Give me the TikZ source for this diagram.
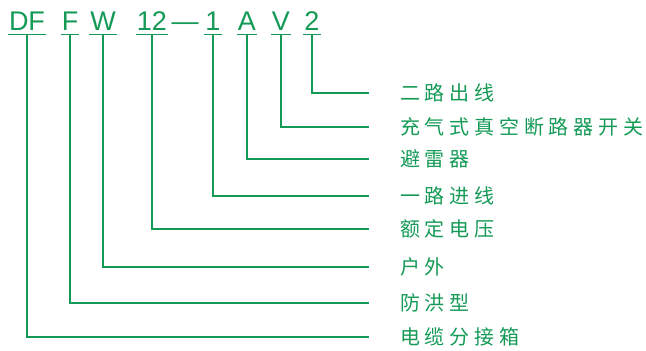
\documentclass[tikz,border=0pt]{standalone}
\usepackage{fontspec}
\setmainfont{Liberation Sans}
\newfontfamily\cjk[LetterSpace=24]{Noto Sans CJK SC}
\definecolor{lg}{RGB}{20,154,86}
\begin{document}
\begin{tikzpicture}[x=1pt,y=-1pt,
  code/.style={text=lg,font=\fontsize{27}{27}\selectfont,inner sep=0pt,text depth=0pt,anchor=base},
  desc/.style={text=lg,font=\cjk\fontsize{20}{20}\selectfont,inner sep=0pt,anchor=west},
  ln/.style={draw=lg,line width=1.3pt}]
\useasboundingbox (0,0) rectangle (646,351);
% code letters
\node[code] (c1) at (27,30) {DF};
\node[code] (c2) at (70,30) {F};
\node[code] (c3) at (103,30) {W};
\node[code] (c4) at (152,30) {12};
\node[code] (dash) at (185,30) {—};
\node[code] (c5) at (213,30) {1};
\node[code] (c6) at (247,30) {A};
\node[code] (c7) at (281,30) {V};
\node[code] (c8) at (312,30) {2};
% descriptions
\node[desc] (t8) at (400,93) {二路出线};
\node[desc] (t7) at (400,127) {充气式真空断路器开关};
\node[desc] (t6) at (400,159) {避雷器};
\node[desc] (t5) at (400,196) {一路进线};
\node[desc] (t4) at (400,229) {额定电压};
\node[desc] (t3) at (400,267) {户外};
\node[desc] (t2) at (400,303) {防洪型};
\node[desc] (t1) at (400,337) {电缆分接箱};
% connectors
\foreach \i in {1,...,8}{
  \draw[ln] ([yshift=-4pt,xshift=-1pt]c\i.south west) -- ([yshift=-4pt,xshift=1pt]c\i.south east);
  \draw[ln] ([yshift=-4pt]c\i.south) |- ([xshift=-31pt]t\i.west);
}
\end{tikzpicture}
\end{document}
